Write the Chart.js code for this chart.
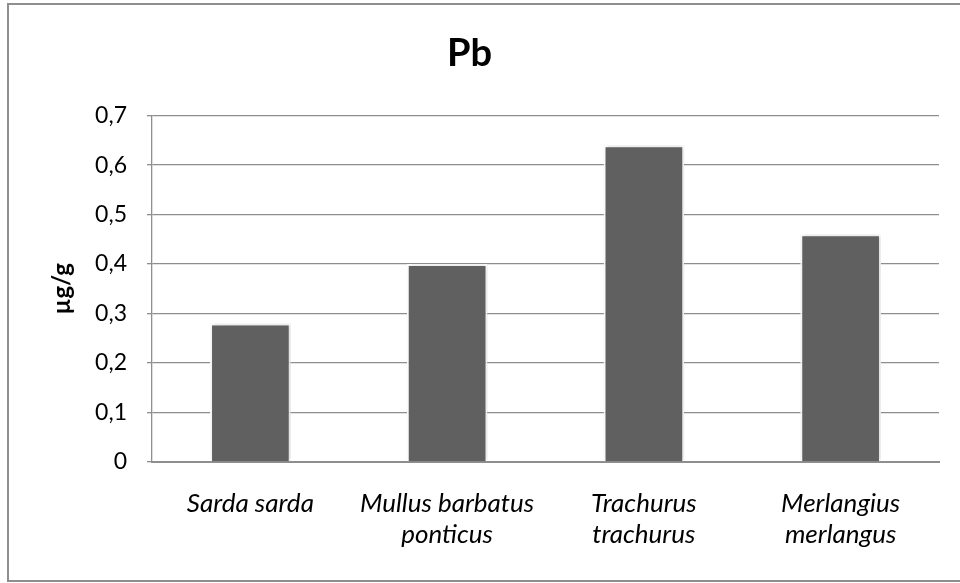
<!DOCTYPE html>
<html>
<head>
<meta charset="utf-8">
<title>Pb</title>
<script src="https://cdn.jsdelivr.net/npm/chart.js@4.4.1/dist/chart.umd.min.js"></script>
<style>
  html, body { margin: 0; padding: 0; background: #fff; }
  canvas { display: block; }
</style>
</head>
<body>
<canvas id="chart" width="960" height="583"></canvas>
<script>
// Lead concentration per species
const species = [
  ['Sarda sarda'],
  ['Mullus barbatus', 'ponticus'],
  ['Trachurus', 'trachurus'],
  ['Merlangius', 'merlangus']
];
const pbValues = [0.28, 0.40, 0.64, 0.46];
const yTickLabels = ['0', '0,1', '0,2', '0,3', '0,4', '0,5', '0,6', '0,7'];

const gridGrey = '#8e8e8e';
const fontFamily = 'Lato, "Open Sans", sans-serif';

// White page with a grey frame around the whole chart
const framePlugin = {
  id: 'frame',
  beforeDraw(chart) {
    const ctx = chart.ctx;
    ctx.save();
    ctx.fillStyle = '#fff';
    ctx.fillRect(0, 0, chart.width, chart.height);
    ctx.strokeStyle = gridGrey;
    ctx.lineWidth = 2;
    ctx.strokeRect(8, 4, chart.width + 10, chart.height - 6);
    ctx.restore();
  }
};

// Soft drop shadow behind the bars
const barShadow = {
  id: 'barShadow',
  beforeDatasetsDraw(chart) {
    const ctx = chart.ctx;
    ctx.save();
    ctx.shadowColor = 'rgba(0,0,0,0.18)';
    ctx.shadowBlur = 4;
    ctx.shadowOffsetX = 1;
    ctx.shadowOffsetY = 0;
  },
  afterDatasetsDraw(chart) {
    chart.ctx.restore();
  }
};

new Chart(document.getElementById('chart'), {
  type: 'bar',
  data: {
    labels: species,
    datasets: [{
      data: pbValues,
      backgroundColor: '#606060',
      borderColor: '#ffffff',
      borderWidth: 2,
      borderSkipped: 'bottom',
      barPercentage: 0.41,
      categoryPercentage: 1
    }]
  },
  options: {
    responsive: false,
    animation: false,
    layout: { padding: { left: 0, right: 21, top: 0, bottom: 0 } },
    plugins: {
      legend: { display: false },
      tooltip: { enabled: false },
      title: {
        display: true,
        text: 'Pb',
        color: '#000',
        font: { family: fontFamily, size: 38, weight: 'bold', lineHeight: 1.2 },
        padding: { top: 31, bottom: 39 }
      }
    },
    scales: {
      x: {
        afterFit(scale) { scale.height = 121; },
        grid: { display: true, drawOnChartArea: false, drawTicks: false },
        border: { display: true, color: gridGrey, width: 2 },
        ticks: {
          color: '#000',
          padding: 26,
          maxRotation: 0,
          autoSkip: false,
          font: { family: fontFamily, size: 26, style: 'italic', lineHeight: 1.2 }
        }
      },
      y: {
        min: 0,
        max: 0.7,
        afterFit(scale) { scale.width = 152; },
        grid: { color: gridGrey, lineWidth: 1.3, tickLength: 5, drawTicks: true },
        border: { display: true, color: gridGrey, width: 1.3 },
        ticks: {
          stepSize: 0.1,
          color: '#000',
          padding: 20,
          font: { family: fontFamily, size: 23 },
          callback: (value, index) => yTickLabels[index]
        },
        title: {
          display: true,
          text: 'µg/g',
          color: '#000',
          font: { family: fontFamily, size: 24, weight: 'bold', lineHeight: 1.2 },
          padding: { top: 48, bottom: 0 }
        }
      }
    }
  },
  plugins: [framePlugin, barShadow]
});
</script>
</body>
</html>
